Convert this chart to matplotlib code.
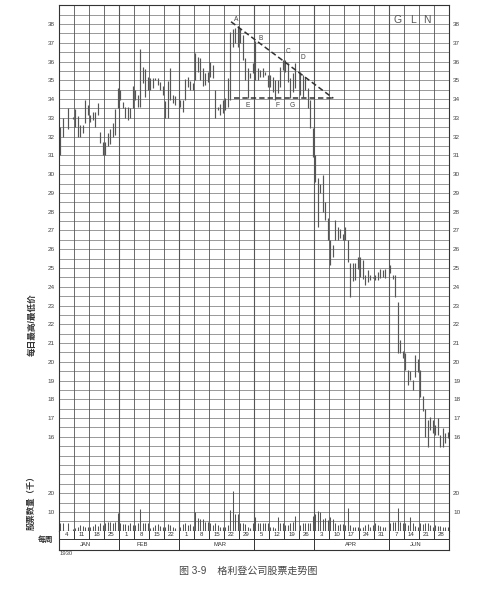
import numpy as np
import matplotlib.pyplot as plt

plt.rcParams['font.family'] = ['Liberation Sans', 'Noto Sans CJK SC']

# week ending dates (Saturdays), 1930
weeks = ['4', '11', '18', '25', '1', '8', '15', '22', '1', '8', '15', '22', '29',
         '5', '12', '19', '26', '3', '10', '17', '24', '31', '7', '14', '21', '28']
month_names = ['JAN', 'FEB', 'MAR', 'APR', 'JUN']
month_label_pos = [1.75, 5.55, 10.75, 19.45, 23.8]
month_edges = [4, 8, 13, 17, 22]

n = np.nan
# daily highs / lows, six trading days per week
high = [
    [32.5, 33.0, n, 33.5, n, 33.05],
    [33.45, 33.1, 32.6, 32.6, 33.95, 33.7],
    [33.15, 33.3, 33.3, 33.8, 32.26, 31.7],
    [31.7, 32.2, 32.4, 32.7, 33.45, 34.6],
    [34.5, 33.85, 33.6, 33.56, 33.5, 34.7],
    [34.5, 34.2, 36.65, 35.7, 35.58, 35.16],
    [35.1, 35.14, 35.14, 35.1, 34.93, 34.7],
    [33.9, 34.98, 35.64, 34.2, 34.16, n],
    [33.95, 33.95, 35.05, 35.16, 34.96, 34.84],
    [36.44, 36.26, 36.17, 35.64, 35.37, 35.46],
    [35.99, 35.81, 34.48, 33.6, 33.74, 33.95],
    [34.04, 35.1, 37.6, 37.72, 37.77, 37.9],
    [37.8, 37.4, 36.2, 35.64, 35.4, 35.9],
    [37.1, 35.64, 35.55, 35.64, 35.46, 35.28],
    [35.28, 35.19, 35.0, 35.0, 35.73, 36.08],
    [36.1, 35.9, 35.1, 35.37, 35.9, n],
    [35.46, 35.28, 35.2, 34.57, 33.95, 32.44],
    [31.0, 29.8, 29.5, 29.95, 28.5, 27.64],
    [26.49, 26.2, 27.55, 27.2, 27.1, 26.8],
    [27.16, 26.49, 25.24, 25.24, 25.24, 25.6],
    [25.6, 25.4, 24.62, 24.89, 24.62, 24.53],
    [24.62, 24.8, 24.97, 24.89, 24.97, n],
    [25.15, 24.62, 24.62, 23.2, 21.16, 20.6],
    [20.45, 19.56, 19.5, 19.02, 20.36, 20.17],
    [19.56, 18.2, 17.5, 16.9, 17.07, 16.9],
    [16.62, 16.98, 16.09, 16.45, 16.18, 16.27],
]
low = [
    [31.0, 32.0, n, 32.4, n, 32.95],
    [32.5, 32.0, 32.0, 32.2, 32.7, 33.15],
    [32.8, 32.9, 32.5, 33.15, 31.64, 31.0],
    [31.0, 31.5, 31.6, 32.0, 32.1, 33.5],
    [33.95, 33.5, 32.97, 32.9, 32.97, 33.5],
    [33.95, 33.6, 33.6, 34.84, 34.1, 34.48],
    [34.48, 34.6, 35.0, 34.75, 34.48, 34.2],
    [32.97, 32.97, 33.95, 33.77, 33.7, n],
    [33.6, 33.33, 33.95, 34.62, 34.48, 34.48],
    [35.02, 35.46, 35.02, 34.7, 34.75, 34.93],
    [35.2, 35.1, 32.97, 33.42, 33.15, 33.24],
    [33.42, 33.6, 33.95, 36.8, 36.97, 36.8],
    [37.0, 36.1, 35.0, 34.07, 35.1, 35.37],
    [35.0, 35.0, 35.2, 35.2, 35.28, 34.66],
    [34.66, 34.4, 33.95, 34.3, 34.66, 35.55],
    [35.46, 34.93, 34.07, 34.39, 34.57, n],
    [34.2, 34.13, 34.48, 33.5, 32.44, 30.93],
    [29.6, 27.2, 28.97, 28.0, 27.55, 26.49],
    [25.15, 25.6, 26.49, 26.49, 26.6, 26.49],
    [26.49, 25.33, 23.47, 24.3, 24.35, 24.97],
    [24.53, 24.4, 24.09, 24.27, 24.35, 24.44],
    [24.35, 24.35, 24.44, 24.53, 24.44, n],
    [24.71, 24.4, 23.47, 20.45, 20.45, 20.18],
    [19.56, 18.76, 19.02, 18.49, 19.2, 19.47],
    [18.13, 17.4, 16.0, 15.47, 16.36, 16.2],
    [16.09, 16.09, 15.47, 15.47, 15.65, 15.92],
]
# daily volume, thousands of shares
volume = [
    [4.3, 4.3, n, 4.3, n, 0.8],
    [1.2, 2.2, 3.0, 2.6, 2.2, 2.2],
    [1.8, 2.7, 3.6, 2.7, 3.9, 3.0],
    [3.9, 4.8, 4.5, 4.3, 4.8, 9.3],
    [3.9, 3.6, 3.6, 3.2, 3.9, 3.2],
    [3.0, 4.3, 11.4, 4.3, 3.9, 3.9],
    [1.2, 2.1, 3.0, 3.4, 2.6, 2.1],
    [2.1, 3.4, 3.0, 2.1, 1.2, n],
    [2.1, 3.4, 3.9, 3.0, 3.4, 2.6],
    [9.8, 6.6, 6.1, 6.1, 4.8, 4.8],
    [4.3, 3.0, 4.3, 3.0, 2.1, 2.1],
    [2.1, 3.0, 11.1, 20.9, 8.8, 8.8],
    [4.3, 3.9, 3.6, 2.1, 1.2, 4.3],
    [7.5, 3.9, 3.9, 3.9, 3.9, 3.9],
    [2.1, 2.1, 1.2, 7.1, 4.3, 4.3],
    [3.0, 3.0, 3.9, 4.8, 7.9, n],
    [3.0, 4.3, 4.3, 4.3, 4.3, 7.9],
    [8.8, 10.5, 9.8, 6.0, 7.0, 5.5],
    [7.5, 6.1, 3.9, 3.0, 3.4, 3.4],
    [3.0, 12.0, 3.0, 2.1, 2.1, 2.1],
    [1.2, 2.1, 3.0, 3.6, 2.1, 3.0],
    [3.9, 3.0, 2.5, 2.1, 2.1, n],
    [4.3, 4.8, 4.8, 12.0, 4.8, 3.9],
    [3.9, 3.0, 7.5, 4.3, 2.5, 2.1],
    [4.3, 3.4, 4.3, 3.9, 3.0, 2.1],
    [3.0, 2.5, 2.5, 2.1, 2.1, 1.8],
]

# triangle annotation
trend_x, trend_y = [11.47, 18.29], [38.12, 34.04]
support_x, support_y = [11.69, 18.29], [34.07, 34.07]
point_names = ['A', 'B', 'C', 'D', 'E', 'F', 'G']
point_x = [11.78, 13.47, 15.25, 16.29, 12.58, 14.58, 15.58]
point_y = [38.25, 37.24, 36.52, 36.2, 33.68, 33.68, 33.68]

W, H = 498, 597
fig = plt.figure(figsize=(W / 100, H / 100), dpi=100)

def frac(x, y):
    return x / W, 1 - y / H

left, right, top, vbase, bottom = 59, 449, 5.24, 530.7, 550
rect = [left / W, 1 - vbase / H, (right - left) / W, (vbase - top) / H]
ax = fig.add_axes(rect)
ax.set_xlim(0, 26)
ax.set_ylim(11, 39)

grid_c = '#707070'
for y in np.arange(11.5, 39, 0.5):
    ax.axhline(y, color=grid_c, lw=0.5, zorder=0)
for x in range(1, 26):
    ax.axvline(x, color='#555555', lw=0.8 if x in month_edges else 0.6, zorder=0)

xs, hs, ls, vs = [], [], [], []
for w in range(len(weeks)):
    for k in range(6):
        xs.append(w + (k + 0.5) / 6)
        hs.append(high[w][k])
        ls.append(low[w][k])
        vs.append(volume[w][k])
ax.vlines(xs, ls, hs, color='#555555', lw=0.85, zorder=3)

ax.plot(trend_x, trend_y, color='#333333', lw=1.1, ls=(0, (3.5, 2)), zorder=4)
ax.plot(support_x, support_y, color='#333333', lw=1.1, ls=(0, (3.5, 2)), zorder=4)
for name, px, py in zip(point_names, point_x, point_y):
    ax.text(px, py, name, fontsize=4.8, color='#444444', ha='center', va='center')

ax.set_xticks([])
ax.set_yticks(range(16, 39))
ax.tick_params(axis='y', length=0, labelsize=4.6, labelleft=True, labelright=True,
               pad=3, labelcolor='#444444')
for s in ax.spines.values():
    s.set_color('#333333')
    s.set_linewidth(0.8)

axv = fig.add_axes(rect)
axv.patch.set_visible(False)
axv.set_xlim(0, 26)
axv.set_ylim(0, 280)
axv.vlines(xs, 0, vs, color='#555555', lw=0.75)
axv.set_xticks([])
axv.set_yticks([10, 20])
axv.tick_params(axis='y', length=0, labelsize=4.6, labelleft=True, labelright=True,
                pad=3, labelcolor='#444444')
for s in axv.spines.values():
    s.set_visible(False)

# week / month strip
axb = fig.add_axes([left / W, 1 - bottom / H, (right - left) / W, (bottom - vbase) / H])
axb.set_xlim(0, 26)
axb.set_ylim(0, 1)
split = 1 - 8.6 / (bottom - vbase)
axb.axhline(split, color='#333333', lw=0.7)
for x in range(1, 26):
    axb.plot([x, x], [split if x not in month_edges else 0, 1], color='#333333', lw=0.7)
for i, lab in enumerate(weeks):
    axb.text(i + 0.5, (split + 1) / 2, lab, fontsize=4.4, color='#333333',
             ha='center', va='center')
for lab, pos in zip(month_names, month_label_pos):
    axb.text(pos, split / 2, lab, fontsize=4.2, color='#333333', ha='center', va='center')
axb.set_xticks([])
axb.set_yticks([])
for s in axb.spines.values():
    s.set_color('#333333')
    s.set_linewidth(0.8)
axb.spines['top'].set_visible(False)

fig.text(*frac(60, 553.5), '1930', fontsize=4.2, color='#444444', ha='left', va='center')
fig.text(*frac(398, 20), 'G', fontsize=7.5, color='#555555', ha='center', va='center')
fig.text(*frac(412.5, 20), 'L', fontsize=7.5, color='#555555', ha='center', va='center')
fig.text(*frac(427, 20), 'N', fontsize=7.5, color='#555555', ha='center', va='center')

fig.text(*frac(32, 325), '每日最高/最低价', rotation=90, fontsize=6.2, fontweight='bold',
         color='#333333', ha='center', va='center')
fig.text(*frac(32, 501), '股票数量（千）', rotation=90, fontsize=6.0, fontweight='bold',
         color='#333333', ha='center', va='center')
fig.text(*frac(45.5, 540), '每周', fontsize=5.6, fontweight='bold', color='#333333',
         ha='center', va='center')
fig.text(*frac(248, 571), '图 3-9    格利登公司股票走势图', fontsize=7.2, color='#444444',
         ha='center', va='center')

fig.savefig('out.png', dpi=100, facecolor='white')
